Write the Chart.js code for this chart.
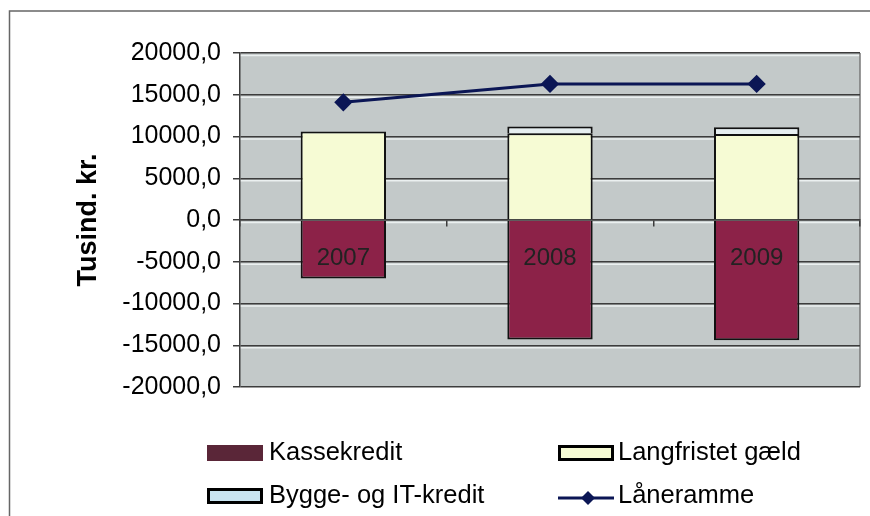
<!DOCTYPE html>
<html><head><meta charset="utf-8">
<script src="https://cdn.jsdelivr.net/npm/chart.js@4.4.1/dist/chart.umd.min.js"></script>
<style>html,body{margin:0;padding:0;background:#fff;overflow:hidden;}</style>
</head><body>
<canvas id="c" width="870" height="516"></canvas>
<script>
const categories = ['2007', '2008', '2009'];
const kassekredit = [-7000, -14300, -14400];
const langfristet = [10600, 10400, 10300];
const bygge = [0, 800, 800];
const laaneramme = [14100, 16300, 16300];
const seriesNames = ['Kassekredit', 'Langfristet gæld', 'Bygge- og IT-kredit', 'Låneramme'];
const yMin = -20000, yMax = 20000, yStep = 5000;
const yTitle = 'Tusind. kr.';

const FONT = "'Liberation Sans', Arial, sans-serif";
const GRID = '#3c3c3c';

const bgPlugin = {
  id: 'bg',
  beforeDraw(chart) {
    const {ctx, chartArea: a} = chart;
    ctx.save();
    ctx.fillStyle = '#fff';
    ctx.fillRect(0, 0, chart.width, chart.height);
    ctx.fillStyle = '#c3c9c9';
    ctx.fillRect(a.left, a.top, a.right - a.left, a.bottom - a.top);
    const ys = chart.scales.y;
    ctx.strokeStyle = 'rgba(240,244,244,0.9)';
    ctx.lineWidth = 1.5;
    ys.ticks.forEach(t => {
      const py = ys.getPixelForValue(t.value) + 2.5;
      if (py < a.bottom) {
        ctx.beginPath(); ctx.moveTo(a.left, py); ctx.lineTo(a.right, py); ctx.stroke();
      }
    });
    ctx.strokeStyle = '#777';
    ctx.lineWidth = 1.5;
    ctx.beginPath();
    ctx.moveTo(a.right, a.top); ctx.lineTo(a.right, a.bottom);
    ctx.stroke();
    ctx.strokeStyle = '#666';
    ctx.beginPath();
    ctx.moveTo(9.5, chart.height); ctx.lineTo(9.5, 11); ctx.lineTo(chart.width, 11);
    ctx.stroke();
    ctx.restore();
  }
};

const catLabelPlugin = {
  id: 'catLabels',
  afterDatasetsDraw(chart) {
    const {ctx} = chart;
    const xs = chart.scales.x, ys = chart.scales.y;
    const y0 = ys.getPixelForValue(0);
    ctx.save();
    ctx.font = '24px ' + FONT;
    ctx.fillStyle = '#222';
    ctx.textAlign = 'center';
    ctx.textBaseline = 'middle';
    chart.data.labels.forEach((lab, i) => {
      ctx.fillText(lab, xs.getPixelForValue(i), y0 + 38);
    });
    ctx.restore();
  }
};

const legendPlugin = {
  id: 'customLegend',
  afterDraw(chart) {
    const ctx = chart.ctx;
    const swX = [207, 558], txtX = [269, 618], rows = [453, 496];
    const sw = 56, sh = 16;
    ctx.save();
    ctx.font = '25.5px ' + FONT;
    ctx.textBaseline = 'middle';
    chart.data.datasets.forEach((ds, i) => {
      const c = i % 2, x = swX[c], y = rows[Math.floor(i / 2)];
      if (ds.type === 'line') {
        ctx.strokeStyle = ds.borderColor; ctx.lineWidth = 3;
        ctx.beginPath(); ctx.moveTo(x, y + 2); ctx.lineTo(x + sw, y + 2); ctx.stroke();
        ctx.fillStyle = ds.pointBackgroundColor;
        const cx = x + 30, r = 7, cy = y + 2;
        ctx.beginPath(); ctx.moveTo(cx, cy - r); ctx.lineTo(cx + r, cy); ctx.lineTo(cx, cy + r); ctx.lineTo(cx - r, cy); ctx.closePath(); ctx.fill();
      } else {
        ctx.fillStyle = ds.legendColor || ds.backgroundColor;
        ctx.fillRect(x, y - sh / 2, sw, sh);
        if (ds.legendBorder) {
          ctx.strokeStyle = '#000'; ctx.lineWidth = 3;
          ctx.strokeRect(x + 1.5, y - sh / 2 + 1.5, sw - 3, sh - 3);
        }
      }
      ctx.fillStyle = '#000';
      ctx.fillText(ds.label, txtX[c], y);
    });
    ctx.restore();
  }
};

new Chart(document.getElementById('c'), {
  data: {
    labels: categories,
    datasets: [
      { type: 'bar', label: seriesNames[0], data: kassekredit, backgroundColor: '#8c2248', legendColor: '#5a2638',
        borderColor: '#111', borderWidth: 2, stack: 's', order: 1 },
      { type: 'bar', label: seriesNames[1], data: langfristet, backgroundColor: '#f6fbd4', legendBorder: true,
        borderColor: '#111', borderWidth: 2, stack: 's', order: 1 },
      { type: 'bar', label: seriesNames[2], data: bygge, backgroundColor: '#e6eef0', legendColor: '#c9e4f0', legendBorder: true,
        borderColor: '#111', borderWidth: 2, stack: 's', order: 1 },
      { type: 'line', label: seriesNames[3], data: laaneramme, borderColor: '#0b1655', borderWidth: 3,
        pointStyle: 'rectRot', pointRadius: 7, pointBackgroundColor: '#0b1655', pointBorderColor: '#0b1655',
        tension: 0, stack: 'l', order: 0 }
    ]
  },
  options: {
    responsive: false,
    animation: false,
    devicePixelRatio: 1,
    layout: { padding: { left: 0, right: 6, top: 53, bottom: 129 } },
    datasets: { bar: { categoryPercentage: 1, barPercentage: 0.413 } },
    plugins: { legend: { display: false }, tooltip: { enabled: false } },
    scales: {
      x: {
        position: { y: 0 },
        stacked: true,
        offset: true,
        grid: { offset: true, drawOnChartArea: false, drawTicks: true, tickLength: 6, color: GRID, lineWidth: 1.5 },
        border: { display: true, color: GRID, width: 1.5 },
        ticks: { display: false }
      },
      y: {
        stacked: true,
        min: yMin, max: yMax,
        afterFit: s => { s.width = 240; },
        ticks: { stepSize: yStep, font: { family: FONT, size: 25 }, color: '#000', padding: 12,
          callback: v => v.toFixed(1).replace('.', ',') },
        grid: { color: GRID, lineWidth: 1.5, tickLength: 7 },
        border: { display: true, color: GRID, width: 1.5 },
        title: { display: true, text: yTitle, font: { family: FONT, size: 27, weight: 'bold' }, color: '#000', padding: { top: 72, bottom: 0 } }
      }
    }
  },
  plugins: [bgPlugin, catLabelPlugin, legendPlugin]
});
</script>
</body></html>
